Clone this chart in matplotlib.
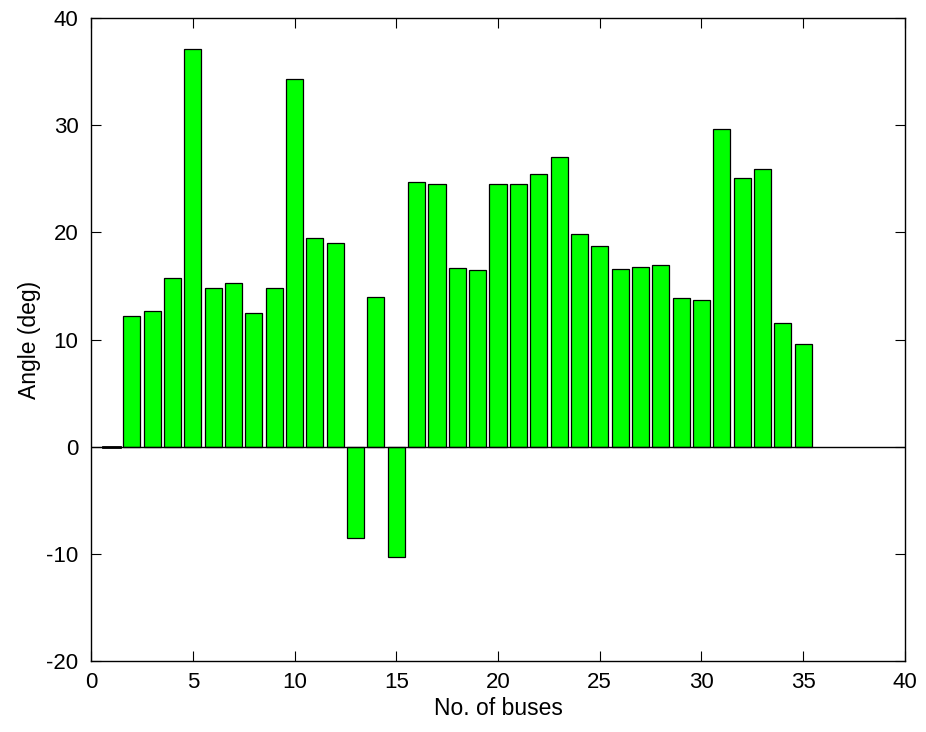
import matplotlib
matplotlib.use("Agg")
import matplotlib.pyplot as plt
import numpy as np

# ---------------------------------------------------------------------------
# DATA
# ---------------------------------------------------------------------------
buses = list(range(1, 36))
angles = [0.0, 12.15, 12.7, 15.7, 37.1, 14.8, 15.3, 12.5, 14.8, 34.3,
          19.5, 19.0, -8.5, 14.0, -10.3, 24.7, 24.5, 16.65, 16.5, 24.5,
          24.5, 25.4, 27.0, 19.8, 18.7, 16.6, 16.75, 16.95, 13.85, 13.65,
          29.6, 25.05, 25.95, 11.55, 9.6]
xticks = [0, 5, 10, 15, 20, 25, 30, 35, 40]
yticks = [-20, -10, 0, 10, 20, 30, 40]

# ---------------------------------------------------------------------------
# PLOT
# ---------------------------------------------------------------------------
plt.rcParams['font.family'] = ['Liberation Sans', 'DejaVu Sans']
plt.rcParams['axes.unicode_minus'] = False
fig = plt.figure(figsize=(9.26, 7.32), dpi=100)
ax = fig.add_axes([0.0983, 0.097, 0.879, 0.8784])

ax.bar(buses, angles, width=0.84, color="#00ff00", edgecolor="black", linewidth=0.9, zorder=2)
ax.axhline(0, color="black", linewidth=1, zorder=3)
ax.plot([0.58, 1.42], [0, 0], color="black", linewidth=2, zorder=4)

ax.set_xlim(0, 40)
ax.set_ylim(-20, 40)
ax.set_xticks(xticks)
ax.set_yticks(yticks)
ax.tick_params(direction="in", length=7, width=0.8, top=True, right=True, labelsize=16)
ax.tick_params(axis="x", pad=8)
ax.tick_params(axis="y", pad=9)
for s in ax.spines.values():
	s.set_linewidth(1)

ax.set_xlabel("No. of buses", fontsize=16.5, labelpad=3)
ax.set_ylabel("Angle (deg)", fontsize=16.5, labelpad=4)

fig.savefig("out.png", dpi=100)
